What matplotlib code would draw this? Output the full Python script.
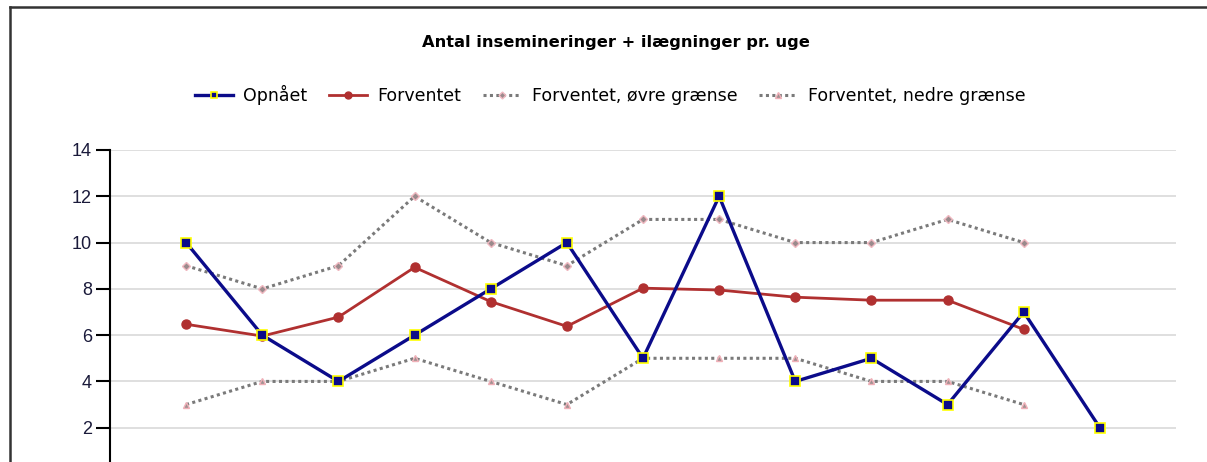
import matplotlib
matplotlib.use("Agg")
import matplotlib.pyplot as plt
from matplotlib.lines import Line2D

plt.rcParams['font.family'] = ['Liberation Sans', 'DejaVu Sans']

title = "Antal insemineringer + ilægninger pr. uge"
labels = ["Opnået", "Forventet", "Forventet, øvre grænse", "Forventet, nedre grænse"]
weeks_opnaaet = [1, 2, 3, 4, 5, 6, 7, 8, 9, 10, 11, 12, 13]
opnaaet = [10, 6, 4, 6, 8, 10, 5, 12, 4, 5, 3, 7, 2]
weeks_forv = [1, 2, 3, 4, 5, 6, 7, 8, 9, 10, 11, 12]
forventet = [6.47, 5.96, 6.78, 8.93, 7.45, 6.38, 8.03, 7.95, 7.64, 7.51, 7.51, 6.25]
oevre = [9, 8, 9, 12, 10, 9, 11, 11, 10, 10, 11, 10]
nedre = [3, 4, 4, 5, 4, 3, 5, 5, 5, 4, 4, 3]
yticks = [2, 4, 6, 8, 10, 12, 14]

W, H = 1207, 462
fig = plt.figure(figsize=(W / 100, H / 100), dpi=100)
fig.patch.set_facecolor("white")

left, right = 110 / W, 1176 / W
top_px, zero_px = 150, 474
ax = fig.add_axes([left, (H - zero_px) / H, right - left, (zero_px - top_px) / H])
ax.set_xlim(0, 14)
ax.set_ylim(0, 14)

navy = "#0b0b8a"
red = "#b03030"
gray = "#7a7a7a"

ax.plot(weeks_forv, oevre, color=gray, lw=2.2, ls=(0, (1, 1.1)), marker="D", ms=4,
        mfc="#9a8a8c", mec="#f0b8c0", mew=1, zorder=2)
ax.plot(weeks_forv, nedre, color=gray, lw=2.2, ls=(0, (1, 1.1)), marker="^", ms=5,
        mfc="#a09090", mec="#f0b0b8", mew=1, zorder=2)
ax.plot(weeks_forv, forventet, color=red, lw=2.0, marker="o", ms=6.5,
        mfc=red, mec=red, zorder=3)
ax.plot(weeks_opnaaet, opnaaet, color=navy, lw=2.4, marker="s", ms=6.5,
        mfc=navy, mec="#ffff00", mew=1.2, zorder=4)

ax.set_yticks(yticks)
ax.set_xticks([])
ax.grid(axis="y", color="#d9d9d9", lw=1.2)
ax.set_axisbelow(True)
for s in ["top", "right", "bottom"]:
    ax.spines[s].set_visible(False)
ax.spines["left"].set_linewidth(1.5)
ax.tick_params(axis="y", length=10, width=1.5, labelsize=13, pad=3, colors="black")
for lab in ax.get_yticklabels():
    lab.set_color("#1a1a3a")

fig.text(616 / W, 1 - 42 / H, title, ha="center", va="center",
         fontsize=11.7, fontweight="bold", family=["DejaVu Sans"])

handles = [
    Line2D([], [], color=navy, lw=2.4, marker="s", ms=5, mfc=navy, mec="#ffff00", mew=1.2),
    Line2D([], [], color=red, lw=2.0, marker="o", ms=5, mfc=red, mec=red),
    Line2D([], [], color=gray, lw=2.2, ls=(0, (1, 1.1)), marker="D", ms=3.5, mfc="#9a8a8c", mec="#f0b8c0"),
    Line2D([], [], color=gray, lw=2.2, ls=(0, (1, 1.1)), marker="^", ms=4, mfc="#a09090", mec="#f0b0b8"),
]
fig.legend(handles, labels, loc="center", bbox_to_anchor=(610 / W, 1 - 95 / H),
           ncol=4, frameon=False, handlelength=2.2,
           columnspacing=1.25, handletextpad=0.6,
           prop={"family": ["DejaVu Sans"], "size": 12.5})

# outer frame (top and left)
fig.add_artist(Line2D([10 / W, 1], [1 - 7 / H, 1 - 7 / H], color="#333333", lw=1.8))
fig.add_artist(Line2D([10 / W, 10 / W], [0, 1 - 7 / H], color="#333333", lw=1.8))

fig.savefig("out.png", dpi=100, facecolor="white")
